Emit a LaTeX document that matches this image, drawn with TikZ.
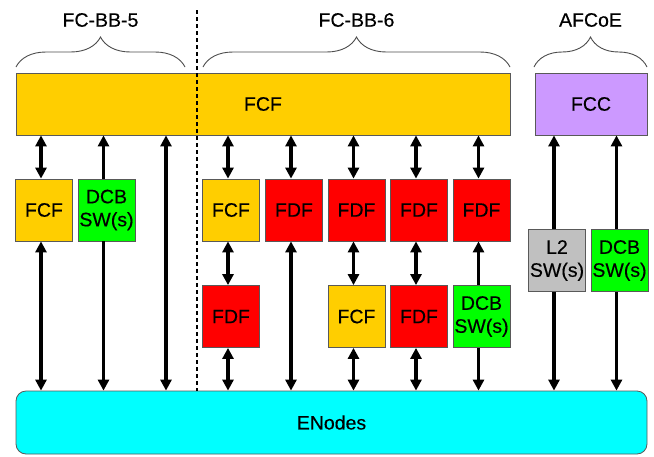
\documentclass[tikz,border=0pt]{standalone}
\usepackage{fontspec}
\setmainfont{Liberation Sans}
\newfontfamily\labelfont{Liberation Sans}[FakeBold=0.35]
\usetikzlibrary{arrows.meta,decorations.pathreplacing}
\definecolor{fcfyellow}{RGB}{255,206,0}
\definecolor{fdfred}{RGB}{255,0,0}
\definecolor{dcbgreen}{RGB}{0,255,0}
\definecolor{swgray}{RGB}{192,192,192}
\definecolor{fccpurple}{RGB}{204,153,255}
\definecolor{enodecyan}{RGB}{0,255,255}
\begin{document}
\begin{tikzpicture}[x=1pt,y=-1pt,
  txt/.style={font=\labelfont\fontsize{19.5}{23}\selectfont},
  blk/.style={txt, draw=black!65, line width=0.8pt, inner sep=0pt, align=center},
  sbox/.style={blk, minimum width=57pt, minimum height=62pt},
  dbl/.style={line width=3.6pt, {Triangle[width=11pt,length=11pt]}-{Triangle[width=11pt,length=11pt]}},
  one/.style={line width=3.6pt, -{Triangle[width=11pt,length=11pt]}},
  brc/.style={decorate, decoration={brace, amplitude=30pt, aspect=0.5}, draw=black!70, line width=0.9pt},
  sep/.style={line width=1.5pt, dash pattern=on 4pt off 3pt}]
\useasboundingbox (0,0) rectangle (654,456);

% top row: fabric controllers
\node[blk, fill=fcfyellow, minimum width=494pt, minimum height=62pt] (bigfcf) at (263,104) {FCF};
\node[blk, fill=fccpurple, minimum width=112pt, minimum height=62pt] (fcc) at (591,104) {FCC};

% bottom bar
\node[blk, fill=enodecyan, rounded corners=10pt, minimum width=631pt, minimum height=63pt] (en) at (331.5,422.5) {ENodes};

% FC-BB-5 boxes
\node[sbox, fill=fcfyellow] (a1) at (44,210) {FCF};
\node[sbox, fill=dcbgreen] (a2) at (106.5,210) {DCB\\SW(s)};
\coordinate (a3) at (169,210);

% FC-BB-6 boxes, upper row
\node[sbox, fill=fcfyellow] (b1) at (231,210) {FCF};
\node[sbox, fill=fdfred] (b2) at (294,210) {FDF};
\node[sbox, fill=fdfred] (b3) at (356.5,210) {FDF};
\node[sbox, fill=fdfred] (b4) at (419,210) {FDF};
\node[sbox, fill=fdfred] (b5) at (481.5,210) {FDF};

% FC-BB-6 boxes, lower row
\node[sbox, fill=fdfred] (c1) at (231,316.5) {FDF};
\node[sbox, fill=fcfyellow] (c3) at (356.5,316.5) {FCF};
\node[sbox, fill=fdfred] (c4) at (419,316.5) {FDF};
\node[sbox, fill=dcbgreen] (c5) at (481.5,316.5) {DCB\\SW(s)};

% AFCoE switches
\node[sbox, fill=swgray] (d1) at (557,260.5) {L2\\SW(s)};
\node[sbox, fill=dcbgreen] (d2) at (619.5,260.5) {DCB\\SW(s)};

% connectors, FC-BB-5
\draw[dbl] ([xshift=-3pt]a1.north |- bigfcf.south) -- ([xshift=-3pt]a1.north);
\draw[dbl] ([xshift=-3pt]a1.south) -- ([xshift=-3pt]a1.south |- en.north);
\draw[one] ([xshift=-3pt]a2.north) -- ([xshift=-3pt]a2.north |- bigfcf.south);
\draw[one] ([xshift=-3pt]a2.south) -- ([xshift=-3pt]a2.south |- en.north);
\draw[dbl] ([xshift=-3pt]a3 |- bigfcf.south) -- ([xshift=-3pt]a3 |- en.north);

% connectors, FC-BB-6
\foreach \n in {b1,b2,b3,b4,b5}
  \draw[dbl] ([xshift=-3pt]\n.north |- bigfcf.south) -- ([xshift=-3pt]\n.north);
\draw[dbl] ([xshift=-3pt]b1.south) -- ([xshift=-3pt]c1.north);
\draw[dbl] ([xshift=-3pt]c1.south) -- ([xshift=-3pt]c1.south |- en.north);
\draw[dbl] ([xshift=-3pt]b2.south) -- ([xshift=-3pt]b2.south |- en.north);
\draw[dbl] ([xshift=-3pt]b3.south) -- ([xshift=-3pt]c3.north);
\draw[dbl] ([xshift=-3pt]c3.south) -- ([xshift=-3pt]c3.south |- en.north);
\draw[dbl] ([xshift=-3pt]b4.south) -- ([xshift=-3pt]c4.north);
\draw[dbl] ([xshift=-3pt]c4.south) -- ([xshift=-3pt]c4.south |- en.north);
\draw[one] ([xshift=-3pt]c5.north) -- ([xshift=-3pt]b5.south);
\draw[one] ([xshift=-3pt]c5.south) -- ([xshift=-3pt]c5.south |- en.north);

% connectors, AFCoE
\draw[one] ([xshift=-3pt]d1.north) -- ([xshift=-3pt]d1.north |- fcc.south);
\draw[one] ([xshift=-3pt]d1.south) -- ([xshift=-3pt]d1.south |- en.north);
\draw[one] ([xshift=-3pt]d2.north) -- ([xshift=-3pt]d2.north |- fcc.south);
\draw[one] ([xshift=-3pt]d2.south) -- ([xshift=-3pt]d2.south |- en.north);

% group braces and titles
\draw[brc] (16,67) -- (185,67);
\draw[brc] (203,67) -- (510,67);
\draw[brc] (534,67) -- (647,67);
\node[txt] (t5) at (100.5,20) {FC-BB-5};
\node[txt] (t6) at (356.5,20) {FC-BB-6};
\node[txt] (ta) at (590.5,20) {AFCoE};

% boundary between FC-BB-5 and FC-BB-6
\coordinate (septop) at (197,10);
\draw[sep] (septop) -- (septop |- en.north);
\end{tikzpicture}
\end{document}
